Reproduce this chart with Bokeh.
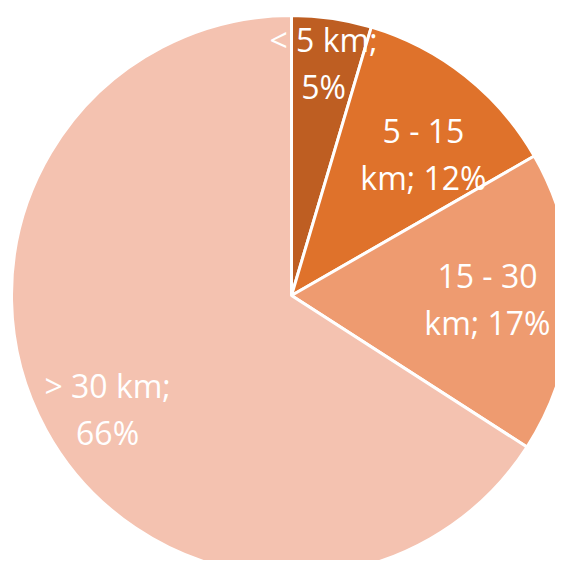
import math
from bokeh.plotting import figure
from bokeh.models import Range1d, ColumnDataSource
from bokeh.core.properties import value
from bokeh.embed import file_html
from bokeh.resources import INLINE

# ---- data ----
categories = ["< 5 km", "5 - 15 km", "15 - 30 km", "> 30 km"]
shares = [4.6, 12.1, 17.4, 65.9]
label_line1 = ["< 5 km;", "5 - 15", "15 - 30", "> 30 km;"]
label_line2 = ["5%", "km; 12%", "km; 17%", "66%"]
colors = ["#BE5E22", "#DF722B", "#EE9B70", "#F4C2B0"]

# ---- layout / style ----
W, H = 555, 560
cx, cy_top = 291, 295          # pie centre in screen px from top-left of plot
R = 280
lab_r = [234.7, 193.5, 196.0, 216.2]
lab_nudge_deg = [-0.44, 4.66, -0.54, -3.1]
line_gap = 23.5
font = "Open Sans"
fsize = "32px"

p = figure(width=W, height=H, output_backend="svg", toolbar_location=None,
           x_range=Range1d(0, W), y_range=Range1d(0, H), min_border=0)
p.axis.visible = False
p.grid.visible = False
p.outline_line_color = None
p.background_fill_color = "white"

cy = H - cy_top
total = sum(shares)
starts, ends, lx, ly = [], [], [], []
cum = 0.0
for i, s in enumerate(shares):
    a0 = math.pi / 2 - cum / total * 2 * math.pi
    a1 = math.pi / 2 - (cum + s) / total * 2 * math.pi
    starts.append(a0)
    ends.append(a1)
    mid = (cum + s / 2) / total * 360 + lab_nudge_deg[i]
    th = math.radians(mid)
    lx.append(cx + lab_r[i] * math.sin(th))
    ly.append(cy + lab_r[i] * math.cos(th))
    cum += s

src = ColumnDataSource(dict(x=[cx] * 4, y=[cy] * 4, start=starts, end=ends,
                            color=colors, cat=categories,
                            lx=lx, ly=ly, l1=label_line1, l2=label_line2))

p.wedge(x="x", y="y", radius=R, start_angle="start", end_angle="end",
        direction="clock", fill_color="color", line_color="white",
        line_width=3, source=src)

p.text(x="lx", y="ly", text="l1", y_offset=-line_gap, source=src,
       text_font=value(font), text_font_size=fsize, text_color="white",
       text_align="center", text_baseline="middle")
p.text(x="lx", y="ly", text="l2", y_offset=line_gap, source=src,
       text_font=value(font), text_font_size=fsize, text_color="white",
       text_align="center", text_baseline="middle")

open("out.html", "w").write(file_html(p, INLINE))
